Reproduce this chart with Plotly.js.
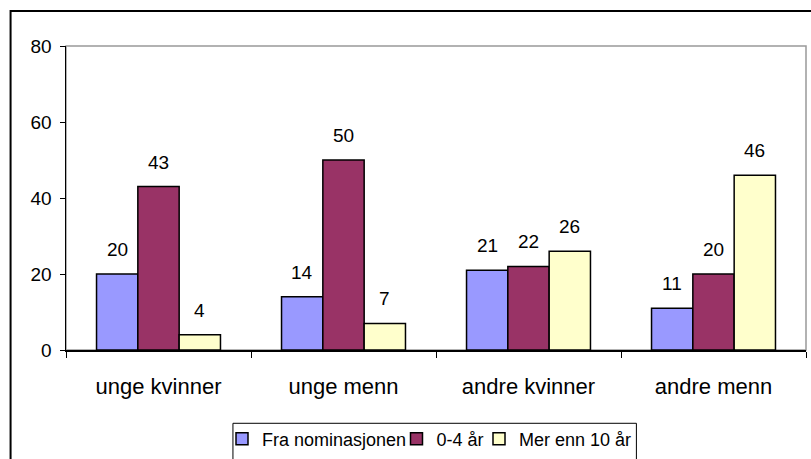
<!DOCTYPE html>
<html>
<head>
<meta charset="utf-8">
<script src="https://cdn.plot.ly/plotly-3.0.1.min.js"></script>
<style>html,body{margin:0;padding:0;background:#fff;}#chart{width:811px;height:459px;}</style>
</head>
<body>
<div id="chart"></div>
<script>
const categories = ["unge kvinner", "unge menn", "andre kvinner", "andre menn"];
const seriesNames = ["Fra nominasjonen", "0-4 år", "Mer enn 10 år"];
const fraNominasjonen = [20, 14, 21, 11];
const null4Aar = [43, 50, 22, 20];
const merEnn10Aar = [4, 7, 26, 46];
const yTicks = [0, 20, 40, 60, 80];

const seriesValues = [fraNominasjonen, null4Aar, merEnn10Aar];
const colors = ["#9999FF", "#993366", "#FFFFCC"];
const font = "Liberation Sans, Arial, sans-serif";
const bargap = 0.33;
const legendIds = ["legend", "legend2", "legend3"];
const legendX = [222, 396.5, 479];   // left pixel of each legend entry

const traces = seriesValues.map((vals, i) => ({
  type: "bar",
  name: seriesNames[i],
  x: categories,
  y: vals,
  legend: legendIds[i],
  marker: {color: colors[i], line: {color: "#000", width: 1.5}},
  hoverinfo: "none"
}));

const barW = (1 - bargap) / 3;
const annotations = [];
seriesValues.forEach((vals, i) => {
  vals.forEach((v, j) => {
    annotations.push({
      xref: "x", yref: "y",
      x: j + (i - 1) * barW, y: v,
      text: String(v), showarrow: false,
      yanchor: "bottom", yshift: 12,
      font: {family: font, size: 19, color: "#000"}
    });
  });
});

const W = 811, H = 459;
const layout = {
  width: W, height: H,
  margin: {l: 65.5, r: 4.5, t: 46, b: 109},
  paper_bgcolor: "#fff", plot_bgcolor: "#fff",
  barmode: "group", bargap: bargap, bargroupgap: 0,
  showlegend: true,
  xaxis: {
    type: "category", automargin: false,
    showline: true, linecolor: "#000", linewidth: 1.5,
    ticks: "outside", ticklen: 6, tickcolor: "#000", tickwidth: 1,
    tickson: "boundaries",
    ticklabelstandoff: 16,
    tickfont: {family: font, size: 22, color: "#000"},
    showgrid: false, zeroline: false, fixedrange: true
  },
  yaxis: {
    range: [0, 80], tickvals: yTicks, ticktext: yTicks.map(String), automargin: false,
    showline: true, linecolor: "#000", linewidth: 1.5,
    ticks: "outside", ticklen: 5, tickcolor: "#000", tickwidth: 1,
    ticklabelstandoff: 4,
    tickfont: {family: font, size: 19, color: "#000"},
    showgrid: false, zeroline: false, fixedrange: true
  },
  shapes: [
    {type: "rect", xref: "paper", yref: "paper", x0: 0, x1: 1, y0: 0, y1: 1,
     line: {color: "#999", width: 1.5}, layer: "below"},
    {type: "rect", xref: "paper", yref: "paper", x0: -0.0749, x1: 1.05, y0: -0.5, y1: 1.115,
     line: {color: "#000", width: 2}, layer: "below"},
    {type: "rect", xref: "paper", yref: "paper", x0: 0.2256, x1: 0.7708, y0: -0.45, y1: -0.2411,
     line: {color: "#000", width: 1}, fillcolor: "rgba(0,0,0,0)", layer: "below"}
  ],
  annotations: annotations
};
legendIds.forEach((id, i) => {
  layout[id] = {
    orientation: "h", xref: "container", yref: "container",
    x: legendX[i] / W, xanchor: "left", y: (H - 439) / H, yanchor: "middle",
    borderwidth: 0, bgcolor: "rgba(0,0,0,0)",
    font: {family: font, size: 18, color: "#000"},
    itemwidth: 30
  };
});

Plotly.newPlot("chart", traces, layout, {staticPlot: true, displayModeBar: false});
</script>
</body>
</html>
